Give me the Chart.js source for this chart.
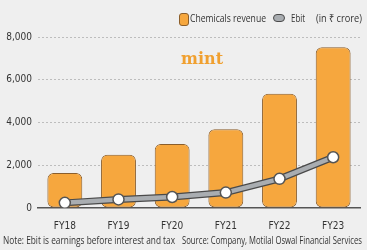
<!DOCTYPE html>
<html>
<head>
<meta charset="utf-8">
<script src="https://cdn.jsdelivr.net/npm/chart.js@4.4.0/dist/chart.umd.min.js"></script>
<style>
  html,body{margin:0;padding:0;background:#efefef;}
  #wrap{position:relative;width:367px;height:250px;overflow:hidden;background:#efefef;font-family:"Open Sans",sans-serif;color:#333;}
  canvas{position:absolute;left:0;top:0;}
  .t{position:absolute;white-space:nowrap;font-size:11px;line-height:12px;transform-origin:0 0;}
  .box{position:absolute;}
</style>
</head>
<body>
<div id="wrap">
  <canvas id="c" width="367" height="250"></canvas>
  <div class="box" style="left:179px;top:13px;width:8px;height:11px;background:#f6a73e;border:1px solid #8b5e2b;border-radius:3px;"></div>
  <div class="t fit" data-w="76" style="left:190px;top:12px;">Chemicals revenue</div>
  <div class="box" style="left:273px;top:14px;width:10px;height:6px;background:#a9adb1;border:1.5px solid #4a4a4a;border-radius:4px;"></div>
  <div class="t fit" data-w="14" style="left:291px;top:12px;">Ebit</div>
  <div class="t fit" data-w="46" style="left:316px;top:12px;">(in ₹ crore)</div>
  <div class="t" style="left:181px;top:50px;font-family:'DejaVu Serif','Liberation Serif',serif;font-weight:bold;font-size:16px;line-height:18px;color:#f0a030;">mint</div>
  <div class="t fit" data-w="172" style="left:3px;top:234px;">Note: Ebit is earnings before interest and tax</div>
  <div class="t fit" data-w="180" style="left:182px;top:234px;">Source: Company, Motilal Oswal Financial Services</div>
</div>
<script>
const categories = ["FY18","FY19","FY20","FY21","FY22","FY23"];
const chemicalsRevenue = [1640, 2490, 3000, 3680, 5350, 7520];
const ebit = [240, 400, 515, 720, 1365, 2375];
const yTicks = [0, 2000, 4000, 6000, 8000];

document.querySelectorAll('.fit').forEach(el => {
  const w = el.getBoundingClientRect().width;
  const target = +el.dataset.w;
  el.style.transform = 'scaleX(' + (target / w) + ')';
});

const FONT = '"DejaVu Sans Condensed","Open Sans",sans-serif';

new Chart(document.getElementById('c'), {
  data: {
    labels: categories,
    datasets: [
      {
        type: 'bar',
        label: 'Chemicals revenue',
        data: chemicalsRevenue,
        backgroundColor: '#f6a73e',
        borderColor: '#8b5e2b',
        borderWidth: 1,
        borderRadius: 6,
        borderSkipped: false,
        categoryPercentage: 0.65,
        barPercentage: 1,
        order: 3
      },
      {
        type: 'line',
        label: 'EbitOutline',
        data: ebit,
        borderColor: '#4a4a4a',
        borderWidth: 7,
        pointRadius: 0,
        tension: 0,
        order: 2
      },
      {
        type: 'line',
        label: 'Ebit',
        data: ebit,
        borderColor: '#a9adb1',
        borderWidth: 4.5,
        pointRadius: 5.5,
        pointBackgroundColor: '#ffffff',
        pointBorderColor: '#555555',
        pointBorderWidth: 1.5,
        tension: 0,
        order: 1
      }
    ]
  },
  options: {
    responsive: false,
    animation: false,
    layout: { padding: { top: 37, right: 5, bottom: 14, left: 0 } },
    plugins: { legend: { display: false }, tooltip: { enabled: false } },
    scales: {
      x: {
        grid: { display: false },
        border: { display: true, color: '#555', width: 1.5 },
        ticks: { color: '#333', font: { family: FONT, size: 10 }, padding: 4 }
      },
      y: {
        min: 0, max: 8000,
        afterBuildTicks: (s) => { s.ticks = yTicks.map(v => ({ value: v })); },
        ticks: {
          color: '#333', font: { family: FONT, size: 10 }, padding: 6,
          callback: (v) => v.toLocaleString('en-US')
        },
        grid: { color: (ctx) => ctx.tick && ctx.tick.value === 0 ? 'rgba(0,0,0,0)' : '#bdbdbd', lineWidth: 1, drawTicks: false },
        border: { display: false, dash: [2, 2] },
        afterFit: (s) => { s.width = 38; }
      }
    }
  }
});
</script>
</body>
</html>
